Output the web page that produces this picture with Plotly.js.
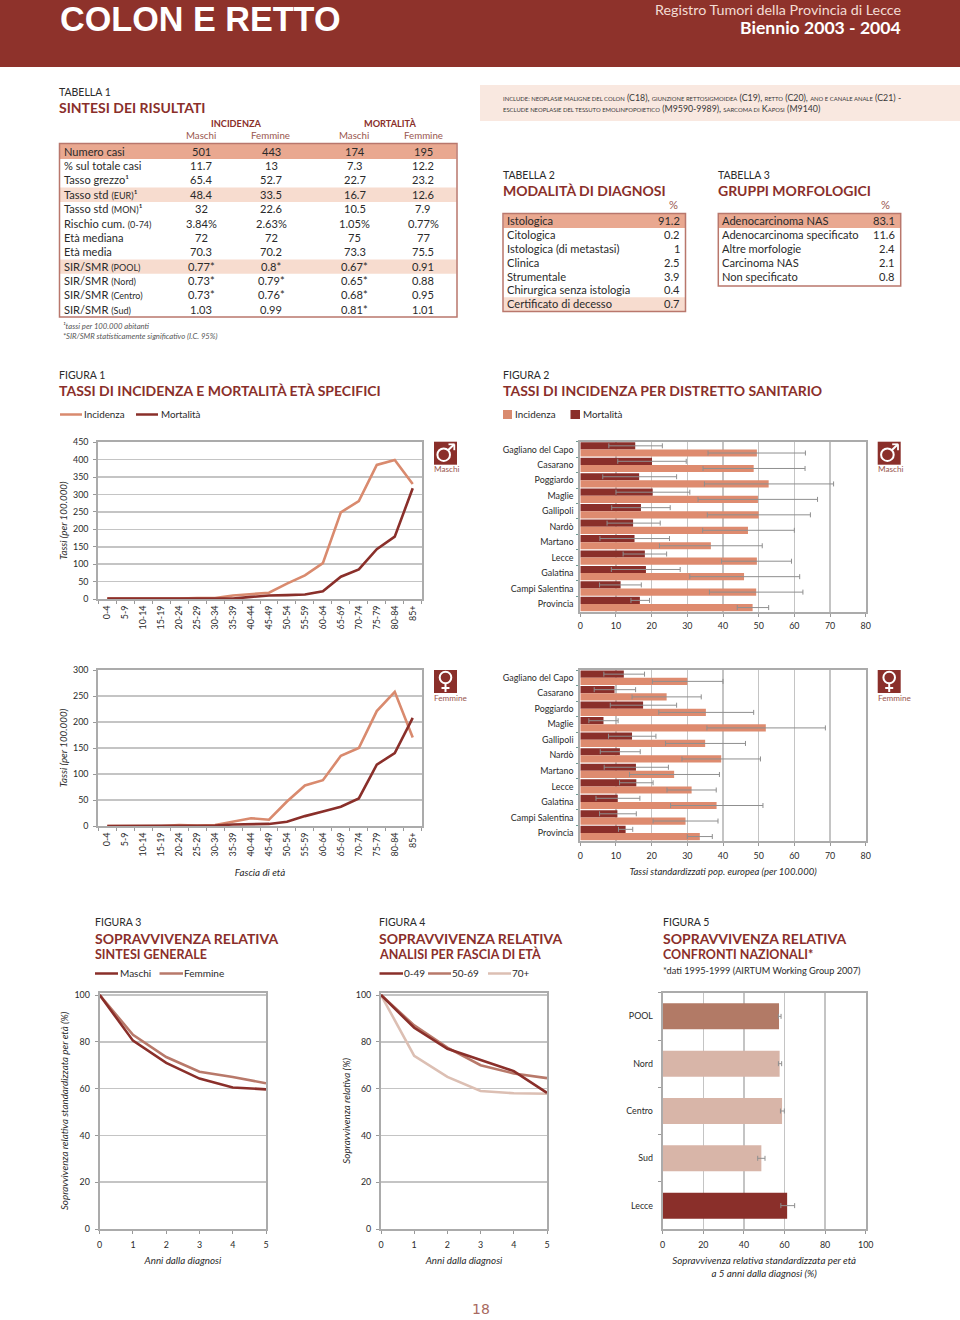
<!DOCTYPE html>
<html><head><meta charset="utf-8">
<script src="https://cdn.plot.ly/plotly-3.0.1.min.js"></script>
<style>html,body{margin:0;padding:0;background:#fff}#c{width:960px;height:1320px}</style>
</head><body><div id="c"></div>
<script>
const FONT='Lato, "Noto Sans", sans-serif';
const RED='#8a2f2a', SAL='#d98a6e', TXT='#2a2a2a', FR='#ababab', GRID='#c4c4c4';

const ageBands=['0-4','5-9','10-14','15-19','20-24','25-29','30-34','35-39','40-44','45-49','50-54','55-59','60-64','65-69','70-74','75-79','80-84','85+'];
const incM=[1,0.5,0.5,0.5,1,3,3,10,14,18,44,68,103,249,281,385,399,330];
const morM=[1,1,1,1,1,2,2,1,6,10,11,13,22,64,85,143,179,318];
const incF=[0,0,0,0,2,1,2,8,15,12,47,78,88,135,150,221,258,170];
const morF=[0,0,0,0,1,0,1,3,4,4,8,19,28,37,53,118,140,208];

const districts=['Gagliano del Capo','Casarano','Poggiardo','Maglie','Gallipoli','Nardò','Martano','Lecce','Galatina','Campi Salentina','Provincia'];
const dMorM=[15.4,20.1,16.5,20.3,17,14.8,15.2,18.1,18.4,11.3,16.7];
const dMorMlo=[8,10.5,6.3,10,8.8,7.5,5.5,12,8.7,5.4,14.2];
const dMorMhi=[23,29.7,27,30.7,25.2,22.4,25,24.2,28,17.1,19.4];
const dIncM=[49.5,48.6,52.8,49.8,50,47,36.6,49.5,45.9,49.3,48.3];
const dIncMlo=[35.8,34.4,34.8,33,35.6,34.3,22.2,39.6,30.7,36.2,44];
const dIncMhi=[63.1,63,71,66.5,64.5,60,51,59.2,61.5,62.4,52.8];
const dMorF=[12.2,9.6,17.6,6.5,14.5,11.1,15.6,15.7,10.5,10.4,12.7];
const dMorFlo=[6.6,3.9,8.4,2.4,7.9,5.6,6.7,11,4.4,5.4,10.7];
const dMorFhi=[18,15.5,27,10.6,21.2,16.8,24.7,20.4,16.7,15.7,14.7];
const dIncF=[30,24.2,35.2,52,35,39.5,26.3,31.2,38.2,29.5,33.5];
const dIncFlo=[20.2,14.5,22,35.5,23.9,28.5,13.8,24.3,25.3,20.4,30];
const dIncFhi=[40,33.9,48.6,68.7,46.3,50.5,39,38.1,51.2,38.6,37];

const years=[0,1,2,3,4,5];
const survM=[100,80.5,71,64.3,60.5,59.7];
const survF=[100,83,73.5,67.2,65,62.3];
const surv049=[100,86,77,72.3,67.5,58.2];
const surv5069=[100,87,77.5,70,66.5,64.5];
const surv70=[100,74,65,59,58,57.8];

const areas=['POOL','Nord','Centro','Sud','Lecce'];
const areaVal=[57.3,57.6,58.8,48.6,61.3];
const areaLo=[57,57,58,46.8,58.2];
const areaHi=[58.3,58.6,59.9,50.4,65];
const areaCol=['#b27a66','#d8b5a8','#d8b5a8','#d8b5a8',RED];

const S9='<span style="font-size:9px">';
const t1Labels=['Numero casi','% sul totale casi','Tasso grezzo¹','Tasso std '+S9+'(EUR)</span>¹','Tasso std '+S9+'(MON)</span>¹','Rischio cum. '+S9+'(0-74)</span>','Età mediana','Età media','SIR/SMR '+S9+'(POOL)</span>','SIR/SMR '+S9+'(Nord)</span>','SIR/SMR '+S9+'(Centro)</span>','SIR/SMR '+S9+'(Sud)</span>'];
const t1IncM=['501','11.7','65.4','48.4','32','3.84%','72','70.3','0.77*','0.73*','0.73*','1.03'];
const t1IncF=['443','13','52.7','33.5','22.6','2.63%','72','70.2','0.8*','0.79*','0.76*','0.99'];
const t1MorM=['174','7.3','22.7','16.7','10.5','1.05%','75','73.3','0.67*','0.65*','0.68*','0.81*'];
const t1MorF=['195','12.2','23.2','12.6','7.9','0.77%','77','75.5','0.91','0.88','0.95','1.01'];
const t2Labels=['Istologica','Citologica','Istologica (di metastasi)','Clinica','Strumentale','Chirurgica senza istologia','Certificato di decesso'];
const t2Vals=['91.2','0.2','1','2.5','3.9','0.4','0.7'];
const t3Labels=['Adenocarcinoma NAS','Adenocarcinoma specificato','Altre morfologie','Carcinoma NAS','Non specificato'];
const t3Vals=['83.1','11.6','2.4','2.1','0.8'];

const W=960,H=1320;
const ann=[],shapes=[];
const px=x=>x/W, py=y=>1-y/H;
function T(x,y,text,o={}){const a=o.a||'left';
  ann.push({xref:'paper',yref:'paper',x:px(x),y:py(o.ya?y:y-0.5),text,showarrow:false,
  xanchor:a,yanchor:o.ya||'middle',borderpad:0,borderwidth:0,textangle:o.rot||0,align:o.align||'left',
  font:{family:o.family||FONT,size:o.s||11,color:o.c||TXT,weight:o.b?700:400,style:o.i?'italic':'normal'}});}
function R(x0,y0,x1,y1,fill,line,lw){shapes.push({type:'rect',xref:'paper',yref:'paper',x0:px(x0),x1:px(x1),y0:py(y0),y1:py(y1),
  fillcolor:fill||'rgba(0,0,0,0)',line:{color:line||'rgba(0,0,0,0)',width:lw||0},layer:'below'});}
function L(x0,y,x1,c,w){shapes.push({type:'line',xref:'paper',yref:'paper',x0:px(x0),x1:px(x1),y0:py(y),y1:py(y),line:{color:c,width:w||2.5}});}
function seg(x0,y0,x1,y1,c,w){shapes.push({type:'line',xref:'paper',yref:'paper',x0:px(x0),x1:px(x1),y0:py(y0),y1:py(y1),line:{color:c,width:w},layer:'above'});}
function circ(cx,cy,r,c,w){shapes.push({type:'circle',xref:'paper',yref:'paper',x0:px(cx-r),x1:px(cx+r),y0:py(cy-r),y1:py(cy+r),line:{color:c,width:w},layer:'above'});}

/* header */
R(0,0,960,67,'#8e322b');
T(60,0,'COLON E RETTO',{s:34.2,b:1,c:'#fff',ya:'top',family:'"Liberation Sans", Lato, sans-serif'});
T(901,9.5,'Registro Tumori della Provincia di Lecce',{s:14.3,c:'#f3dcd4',a:'right'});
T(901,28,'Biennio 2003 - 2004',{s:17.6,b:1,c:'#fff',a:'right'});

function head(x,y,a,b,sub){T(x,y,a,{s:10.5});T(x,y+16.5,b,{s:14,b:1,c:RED});if(sub)T(x,y+32.5,sub,{s:12.5,b:1,c:RED});}

/* table 1 */
head(59,92,'TABELLA 1','SINTESI DEI RISULTATI');
T(236,124,'INCIDENZA',{s:9.2,b:1,c:RED,a:'center'});
T(390,124,'MORTALITÀ',{s:9.2,b:1,c:RED,a:'center'});
[[201,'Maschi'],[270,'Femmine'],[354,'Maschi'],[423,'Femmine']].forEach(p=>T(p[0],135.5,p[1],{s:9.7,c:'#99564e',a:'center'}));
const fillStrong='#e9a890', fillLight='#f7dccf';
const t1y=151.7, t1s=14.36;
R(60,144,456.5,158.9,fillStrong);
R(60,t1y+3*t1s-7.2,456.5,t1y+3*t1s+7.2,fillLight);
R(60,t1y+8*t1s-7.2,456.5,t1y+8*t1s+7.2,fillLight);
R(59.5,143.5,457,317,null,'#b9776c',1.5);
t1Labels.forEach((l,i)=>{const y=t1y+i*t1s;T(64,y,l,{s:11.1});
  T(201,y,t1IncM[i],{s:11.1,a:'center'});T(271,y,t1IncF[i],{s:11.1,a:'center'});
  T(354.5,y,t1MorM[i],{s:11.1,a:'center'});T(423,y,t1MorF[i],{s:11.1,a:'center'});});
T(62.5,326,'¹tassi per 100.000 abitanti',{s:7.7,i:1,c:'#555'});
T(62.5,336,'*SIR/SMR statisticamente significativo (I.C. 95%)',{s:7.7,i:1,c:'#555'});

/* include banner */
R(480,85,960,121,'#f9e8e0');
const sc=s=>'<span style="font-size:5.9px">'+s+'</span>';
T(503,104,sc('INCLUDE: NEOPLASIE MALIGNE DEL COLON')+' (C18), '+sc('GIUNZIONE RETTOSIGMOIDEA')+' (C19), '+sc('RETTO')+' (C20), '+sc('ANO E CANALE ANALE')+' (C21) -<br>'+sc('ESCLUDE NEOPLASIE DEL TESSUTO EMOLINFOPOIETICO')+' (M9590-9989), '+sc('SARCOMA DI')+' K'+sc('APOSI')+' (M9140)',{s:8.8,c:'#3a3a3a'});

/* table 2 */
head(503,175,'TABELLA 2','MODALITÀ DI DIAGNOSI');
T(673,205.5,'%',{s:11.2,c:'#99564e',a:'center'});
const t2y=221,t2s=13.88;
R(503.5,214,685,228,fillStrong);
R(503.5,t2y+6*t2s-7,685,311,fillLight);
R(503,213.5,685.5,311.5,null,'#b9776c',1.5);
t2Labels.forEach((l,i)=>{T(506.5,t2y+i*t2s,l,{s:11.1});T(680,t2y+i*t2s,t2Vals[i],{s:11.1,a:'right'});});

/* table 3 */
head(717.5,175,'TABELLA 3','GRUPPI MORFOLOGICI');
T(885,205.5,'%',{s:11.2,c:'#99564e',a:'center'});
R(718.5,214,900.5,228,fillStrong);
R(718.3,213.5,900.7,286,null,'#b9776c',1.5);
t3Labels.forEach((l,i)=>{T(722,t2y+i*t2s,l,{s:11.1});T(895,t2y+i*t2s,t3Vals[i],{s:11.1,a:'right'});});

/* figure headers */
head(59,375,'FIGURA 1','TASSI DI INCIDENZA E MORTALITÀ ETÀ SPECIFICI');
L(60,414.5,82,SAL,2.5);T(84,415,'Incidenza',{s:9.8});L(136,414.5,158,RED,2.5);T(161,415,'Mortalità',{s:9.8});
head(503,375,'FIGURA 2','TASSI DI INCIDENZA PER DISTRETTO SANITARIO');
R(503,410,512,419,SAL);T(515,415,'Incidenza',{s:9.8});R(570.5,410,580,419,RED);T(583,415,'Mortalità',{s:9.8});
head(95,922,'FIGURA 3','SOPRAVVIVENZA RELATIVA','SINTESI GENERALE');
const c2='#b8796a',c3='#dcbfb3';
L(95,973.5,118,RED,2.5);T(119.5,973.5,'Maschi',{s:10});L(159.5,973.5,183,c2,2.5);T(184,973.5,'Femmine',{s:10});
head(379,922,'FIGURA 4','SOPRAVVIVENZA RELATIVA','ANALISI PER FASCIA DI ETÀ');
L(379.5,973.5,403,RED,2.5);T(404,973.5,'0-49',{s:10});L(428,973.5,451,c2,2.5);T(452,973.5,'50-69',{s:10});L(488,973.5,511,c3,2.5);T(512,973.5,'70+',{s:10});
head(663,922,'FIGURA 5','SOPRAVVIVENZA RELATIVA','CONFRONTI NAZIONALI*');
T(663,971,'*dati 1995-1999 (AIRTUM Working Group 2007)',{s:9.2});

/* sex badges */
function male(x,y){R(x,y,x+23,y+23,RED);circ(x+9.7,y+13,6.3,'#fff',2);seg(x+14,y+8.6,x+20,y+2.8,'#fff',2);seg(x+14.5,y+2.6,x+20.6,y+2.6,'#fff',1.8);seg(x+20.3,y+2.6,x+20.3,y+8.5,'#fff',1.8);T(x,y+27.5,'Maschi',{s:8.2,c:'#99564e'});}
function female(x,y){R(x,y,x+23,y+23,RED);circ(x+11.5,y+7.5,5.8,'#fff',2);seg(x+11.5,y+13.5,x+11.5,y+22,'#fff',2);seg(x+7.5,y+18,x+15.5,y+18,'#fff',2);T(x,y+28.5,'Femmine',{s:8.2,c:'#99564e'});}
male(434,441.7);male(877.7,441.7);female(434,670);female(877.7,670);

/* page number */
T(480.5,1309,'18',{s:14,c:'#a86a60',a:'center',family:'"DejaVu Sans", sans-serif'});

const xd=(a,b)=>[a/W,b/W], yd=(top,bot)=>[1-bot/H,1-top/H];
const tf={family:FONT,size:8.9,color:TXT};
const ttl=(text,st,s)=>({text,standoff:st,font:{family:FONT,size:s||9.8,color:TXT,style:'italic'}});
function frame(o){return Object.assign({showline:true,mirror:true,linecolor:FR,linewidth:2,ticks:'outside',ticklen:3,tickwidth:1,tickcolor:'#999',tickfont:tf,zeroline:false,showgrid:false,fixedrange:true,automargin:false},o);}
const cat=ageBands.length;
const layout={width:W,height:H,margin:{l:0,r:0,t:0,b:0},paper_bgcolor:'#fff',plot_bgcolor:'#fff',showlegend:false,
  barmode:'group',bargap:0.07,bargroupgap:0,annotations:ann,shapes,font:{family:FONT,color:TXT},
  xaxis:frame({domain:xd(98.3,421.7),anchor:'y',type:'category',categoryorder:'array',categoryarray:ageBands,tickangle:-90,tickson:'boundaries',range:[-0.5,cat-0.5],ticklabelstandoff:1}),
  yaxis:frame({domain:yd(442.3,599),anchor:'x',range:[0,450],dtick:50,showgrid:true,gridcolor:GRID,gridwidth:1.5,ticklabelstandoff:3,title:ttl('Tassi (per 100.000)',4)}),
  xaxis2:frame({domain:xd(98.3,421.7),anchor:'y2',type:'category',categoryorder:'array',categoryarray:ageBands,tickangle:-90,tickson:'boundaries',range:[-0.5,cat-0.5],ticklabelstandoff:1,title:ttl('Fascia di età',14)}),
  yaxis2:frame({domain:yd(670,826),anchor:'x2',range:[0,300],dtick:50,showgrid:true,gridcolor:GRID,gridwidth:1.5,ticklabelstandoff:3,title:ttl('Tassi (per 100.000)',4)}),
  xaxis3:frame({domain:xd(580.3,865.7),anchor:'y3',range:[0,80],dtick:10,showgrid:true,gridcolor:GRID,gridwidth:1.5,ticklabelstandoff:2}),
  yaxis3:frame({domain:yd(441.7,611.7),anchor:'x3',type:'category',categoryorder:'array',categoryarray:districts,autorange:'reversed',tickson:'boundaries',ticklen:2,tickcolor:'#6c9a92',ticklabelstandoff:3}),
  xaxis4:frame({domain:xd(580.3,865.7),anchor:'y4',range:[0,80],dtick:10,showgrid:true,gridcolor:GRID,gridwidth:1.5,ticklabelstandoff:3,title:ttl('Tassi standardizzati pop. europea (per 100.000)',8,9.5)}),
  yaxis4:frame({domain:yd(670,840.7),anchor:'x4',type:'category',categoryorder:'array',categoryarray:districts,autorange:'reversed',tickson:'boundaries',ticklen:2,tickcolor:'#6c9a92',ticklabelstandoff:3}),
  xaxis5:frame({domain:xd(99.7,266),anchor:'y5',range:[0,5],dtick:1,ticklabelstandoff:3,title:ttl('Anni dalla diagnosi',8)}),
  yaxis5:frame({domain:yd(992.7,1229),anchor:'x5',range:[0,101],tick0:0,dtick:20,showgrid:true,gridcolor:GRID,gridwidth:1.5,ticklabelstandoff:3,title:ttl('Sopravvivenza relativa standardizzata per età (%)',4)}),
  xaxis6:frame({domain:xd(381,547),anchor:'y6',range:[0,5],dtick:1,ticklabelstandoff:3,title:ttl('Anni dalla diagnosi',8)}),
  yaxis6:frame({domain:yd(992.7,1229),anchor:'x6',range:[0,101],tick0:0,dtick:20,showgrid:true,gridcolor:GRID,gridwidth:1.5,ticklabelstandoff:3,title:ttl('Sopravvivenza relativa (%)',3)}),
  xaxis7:frame({domain:xd(662.7,865.7),anchor:'y7',range:[0,100],dtick:20,showgrid:true,gridcolor:GRID,gridwidth:1.5,ticklabelstandoff:3,title:ttl('Sopravvivenza relativa standardizzata per età<br>a 5 anni dalla diagnosi (%)',8)}),
  yaxis7:frame({domain:yd(992.7,1229.3),anchor:'x7',type:'category',categoryorder:'array',categoryarray:areas,autorange:'reversed',tickson:'boundaries',ticklabelstandoff:6})
};
const ln=(x,y,name,c,xa,ya,w)=>({type:'scatter',mode:'lines',x,y,name,xaxis:xa,yaxis:ya,line:{color:c,width:w||2.6,shape:'linear'},cliponaxis:false,hoverinfo:'x+y+name'});
const errs=(v,lo,hi)=>({type:'data',symmetric:false,array:hi.map((h,i)=>+(h-v[i]).toFixed(2)),arrayminus:lo.map((l,i)=>+(v[i]-l).toFixed(2)),color:'#8f8f8f',thickness:1,width:2.5});
const br=(x,lo,hi,y,name,c,xa,ya)=>({type:'bar',orientation:'h',x,y,name,xaxis:xa,yaxis:ya,marker:{color:c},error_x:errs(x,lo,hi)});
const traces=[
  ln(ageBands,incM,'Incidenza',SAL,'x','y'),ln(ageBands,morM,'Mortalità',RED,'x','y'),
  ln(ageBands,incF,'Incidenza',SAL,'x2','y2'),ln(ageBands,morF,'Mortalità',RED,'x2','y2'),
  br(dMorM,dMorMlo,dMorMhi,districts,'Mortalità',RED,'x3','y3'),br(dIncM,dIncMlo,dIncMhi,districts,'Incidenza','#de8b6f','x3','y3'),
  br(dMorF,dMorFlo,dMorFhi,districts,'Mortalità',RED,'x4','y4'),br(dIncF,dIncFlo,dIncFhi,districts,'Incidenza','#de8b6f','x4','y4'),
  ln(years,survF,'Femmine',c2,'x5','y5'),ln(years,survM,'Maschi',RED,'x5','y5'),
  ln(years,surv70,'70+',c3,'x6','y6'),ln(years,surv5069,'50-69',c2,'x6','y6'),ln(years,surv049,'0-49',RED,'x6','y6'),
  Object.assign(br(areaVal,areaLo,areaHi,areas,'Sopravvivenza',areaCol,'x7','y7'),{width:0.55})
];
Plotly.newPlot('c',traces,layout,{displayModeBar:false,staticPlot:true});
</script></body></html>
